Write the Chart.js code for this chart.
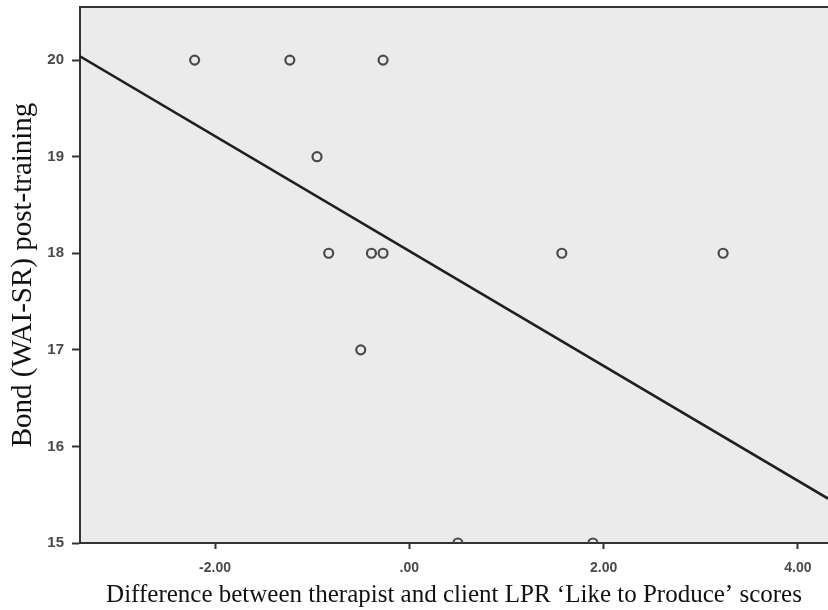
<!DOCTYPE html>
<html>
<head>
<meta charset="utf-8">
<script src="https://cdn.jsdelivr.net/npm/chart.js@4"></script>
<style>
  html, body { margin: 0; padding: 0; background: #fff; overflow: hidden; }
  #wrap { width: 828px; height: 610px; }
</style>
</head>
<body>
<div id="wrap"><canvas id="scatter"></canvas></div>
<script>
// observed points (difference score, bond score)
const diffScores = [-2.21, -1.23, -0.27, -0.95, -0.83, -0.39, -0.27, -0.50, 1.57, 3.23, 0.50, 1.89];
const bondScores = [20, 20, 20, 19, 18, 18, 18, 17, 18, 18, 15, 15];

// fit line end points
const fitX = [-3.39, 4.31];
const fitY = [20.04, 15.46];

const xTicks = [-2, 0, 2, 4];
const xTickLabels = ['-2.00', '.00', '2.00', '4.00'];
const yTicks = [15, 16, 17, 18, 19, 20];

const xRange = [-3.39, 4.31];
const yRange = [15, 20.55];

// grey plot area plus the top border line
const plotBackground = {
    id: 'plotBackground',
    beforeDraw(chart) {
        const { ctx, chartArea: a } = chart;
        ctx.save();
        ctx.fillStyle = '#ebebeb';
        ctx.fillRect(a.left, a.top, a.right - a.left, a.bottom - a.top);
        ctx.restore();
    },
    afterDraw(chart) {
        const { ctx, chartArea: a } = chart;
        ctx.save();
        ctx.strokeStyle = '#333';
        ctx.lineWidth = 2;
        ctx.beginPath();
        ctx.moveTo(a.left, a.top);
        ctx.lineTo(a.right, a.top);
        ctx.stroke();
        ctx.restore();
    }
};

const points = diffScores.map((x, i) => ({ x: x, y: bondScores[i] }));
const fitLine = fitX.map((x, i) => ({ x: x, y: fitY[i] }));

const ctx = document.getElementById('scatter').getContext('2d');
new Chart(ctx, {
    type: 'scatter',
    data: {
        datasets: [
            {
                label: 'Fit',
                data: fitLine,
                showLine: true,
                borderColor: '#1f1f1f',
                borderWidth: 2.5,
                pointRadius: 0,
                clip: 0
            },
            {
                label: 'Bond',
                data: points,
                pointStyle: 'circle',
                pointRadius: 4.5,
                pointBorderWidth: 2.2,
                pointBorderColor: '#4a4a4a',
                pointBackgroundColor: 'rgba(0,0,0,0)',
                clip: 0
            }
        ]
    },
    plugins: [plotBackground],
    options: {
        responsive: true,
        maintainAspectRatio: false,
        animation: false,
        layout: { autoPadding: false, padding: { top: 7, left: 0, right: 0, bottom: 0 } },
        plugins: {
            legend: { display: false },
            tooltip: { enabled: false }
        },
        scales: {
            x: {
                type: 'linear',
                min: xRange[0],
                max: xRange[1],
                afterBuildTicks: axis => { axis.ticks = xTicks.map(v => ({ value: v })); },
                afterFit: axis => { axis.height = 67; axis.paddingLeft = 0; axis.paddingRight = 0; },
                border: { display: true, color: '#333', width: 2 },
                grid: { display: true, drawOnChartArea: false, drawTicks: true, tickLength: 6, tickWidth: 2, color: '#333' },
                ticks: {
                    padding: 11,
                    color: '#4a4a4a',
                    font: { family: 'Liberation Sans, Arial, sans-serif', size: 14, weight: 'bold' },
                    callback: v => xTickLabels[xTicks.indexOf(v)]
                },
                title: {
                    display: true,
                    text: 'Difference between therapist and client LPR \u2018Like to Produce\u2019 scores',
                    color: '#111',
                    font: { family: 'Liberation Serif, Times New Roman, serif', size: 25 },
                    padding: { top: 0, bottom: 0 }
                }
            },
            y: {
                type: 'linear',
                min: yRange[0],
                max: yRange[1],
                afterBuildTicks: axis => { axis.ticks = yTicks.map(v => ({ value: v })); },
                afterFit: axis => { axis.width = 80; axis.paddingTop = 0; axis.paddingBottom = 0; },
                border: { display: true, color: '#333', width: 2 },
                grid: { display: true, drawOnChartArea: false, drawTicks: true, tickLength: 8, tickWidth: 2, color: '#333' },
                ticks: {
                    padding: 8,
                    color: '#4a4a4a',
                    font: { family: 'Liberation Sans, Arial, sans-serif', size: 15, weight: 'bold' },
                    callback: v => String(v)
                },
                title: {
                    display: true,
                    text: 'Bond (WAI-SR) post-training',
                    color: '#111',
                    font: { family: 'Liberation Serif, Times New Roman, serif', size: 29 },
                    padding: { top: 6, bottom: 0 }
                }
            }
        }
    }
});
</script>
</body>
</html>
